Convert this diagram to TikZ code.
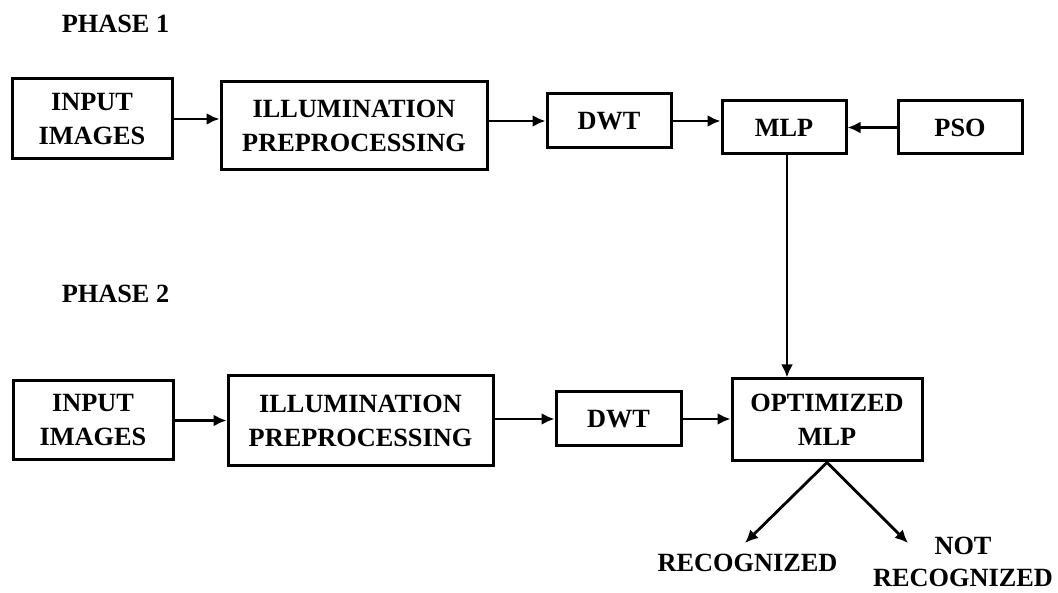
\documentclass[tikz,border=0pt]{standalone}
\usepackage{fontspec}
\setmainfont{Liberation Serif}
\usetikzlibrary{arrows.meta}
\begin{document}
\begin{tikzpicture}[x=1pt,y=-1pt,
    font=\fontsize{26.3}{34}\selectfont\bfseries,
    box/.style={draw,line width=3pt,align=center,inner sep=0pt},
    label/.style={align=center,inner sep=0pt}]
      \useasboundingbox (0,0) rectangle (1058,593);
      \draw
        (115.5,24) node[label] (p1){PHASE 1}
        (115.5,294) node[label] (p2){PHASE 2}
        (92,119) node[box,minimum width=160,minimum height=80] (in1){INPUT\\IMAGES}
        (354,126) node[box,minimum width=266,minimum height=88] (il1){ILLUMINATION\\PREPROCESSING}
        (609,121) node[box,minimum width=124,minimum height=54] (dwt1){DWT}
        (784,127.5) node[box,minimum width=124,minimum height=53] (mlp){MLP}
        (960,127.5) node[box,minimum width=124,minimum height=53] (pso){PSO}
        (93,420.5) node[box,minimum width=160,minimum height=79] (in2){INPUT\\IMAGES}
        (360.5,421) node[box,minimum width=265,minimum height=90] (il2){ILLUMINATION\\PREPROCESSING}
        (618.5,419) node[box,minimum width=125,minimum height=54] (dwt2){DWT}
        (827,420) node[box,minimum width=190,minimum height=82] (opt){OPTIMIZED\\MLP}
        (747.5,563) node[label] (rec){RECOGNIZED}
        (963,562) node[label,font=\fontsize{26.3}{32}\selectfont\bfseries] (notrec){NOT\\RECOGNIZED};
      \coordinate (rectip) at (745,543);
      \coordinate (nottip) at (908,543);
      \begin{scope}[line width=2.8pt,-{Latex[length=13pt,width=12pt]}]
        \draw (in1) to (in1 -| il1.west);
        \draw (il1.east |- dwt1) to (dwt1);
        \draw (dwt1) to (dwt1 -| mlp.west);
        \draw (pso) to (mlp);
        \draw ([xshift=3pt]mlp.south) to ([xshift=3pt]mlp.south |- opt.north);
        \draw (in2) to (in2 -| il2.west);
        \draw (il2.east |- dwt2) to (dwt2);
        \draw (dwt2) to (dwt2 -| opt.west);
        \draw (opt.south) to (rectip);
        \draw (opt.south) to (nottip);
      \end{scope}
    \end{tikzpicture}
\end{document}
